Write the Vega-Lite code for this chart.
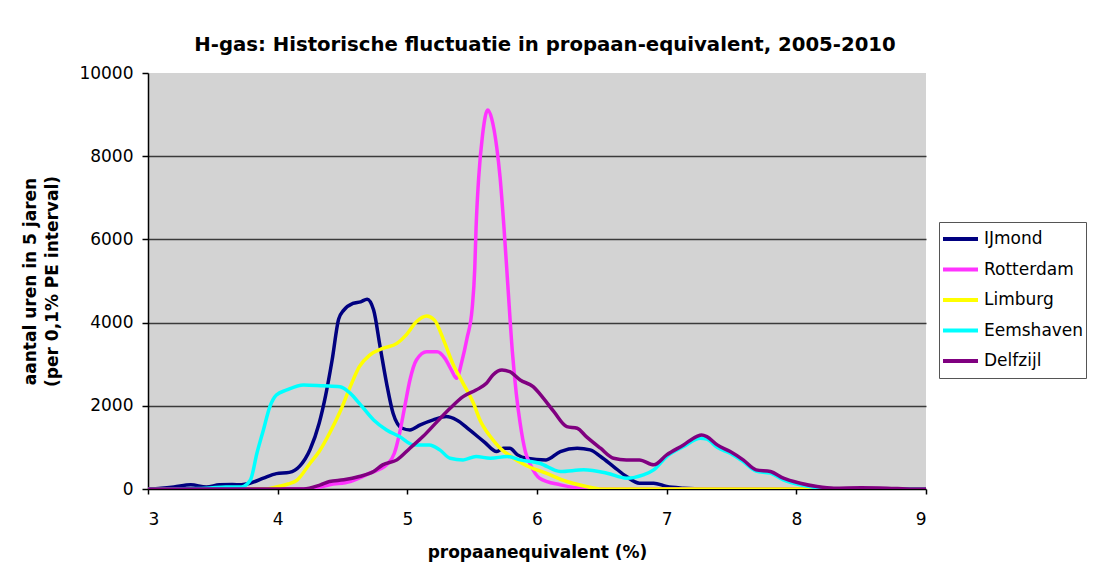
{
  "$schema": "https://vega.github.io/schema/vega-lite/v6.json",
  "width": 778,
  "height": 416,
  "autosize": {"type": "none"},
  "padding": {"left": 148, "top": 73, "right": 167, "bottom": 90},
  "background": "white",
  "title": {
    "text": "H-gas: Historische fluctuatie in propaan-equivalent, 2005-2010",
    "font": "DejaVu Sans",
    "fontSize": 19.7,
    "fontWeight": "bold",
    "color": "black",
    "anchor": "middle",
    "frame": "group",
    "offset": 9,
    "dx": 8
  },
  "config": {
    "view": {"fill": "#d3d3d3", "stroke": null},
    "axis": {
      "labelFont": "DejaVu Sans",
      "labelFontSize": 17,
      "labelColor": "black",
      "titleFont": "DejaVu Sans",
      "titleFontSize": 17,
      "titleFontWeight": "bold",
      "titleColor": "black",
      "domainColor": "black",
      "domainWidth": 1.5,
      "tickColor": "black",
      "tickWidth": 1.5,
      "tickSize": 6
    }
  },
  "data": {
    "values": [
      {"s": "IJmond", "x": 3.0, "y": 0},
      {"s": "IJmond", "x": 3.1, "y": 20},
      {"s": "IJmond", "x": 3.2, "y": 50},
      {"s": "IJmond", "x": 3.33, "y": 100},
      {"s": "IJmond", "x": 3.45, "y": 50},
      {"s": "IJmond", "x": 3.55, "y": 100},
      {"s": "IJmond", "x": 3.65, "y": 110},
      {"s": "IJmond", "x": 3.72, "y": 100},
      {"s": "IJmond", "x": 3.79, "y": 140},
      {"s": "IJmond", "x": 3.89, "y": 260},
      {"s": "IJmond", "x": 3.99, "y": 370},
      {"s": "IJmond", "x": 4.09, "y": 400},
      {"s": "IJmond", "x": 4.17, "y": 550},
      {"s": "IJmond", "x": 4.25, "y": 950},
      {"s": "IJmond", "x": 4.32, "y": 1580},
      {"s": "IJmond", "x": 4.37, "y": 2250},
      {"s": "IJmond", "x": 4.42, "y": 3100},
      {"s": "IJmond", "x": 4.47, "y": 4080},
      {"s": "IJmond", "x": 4.51, "y": 4300},
      {"s": "IJmond", "x": 4.58, "y": 4460},
      {"s": "IJmond", "x": 4.64, "y": 4500},
      {"s": "IJmond", "x": 4.69, "y": 4560},
      {"s": "IJmond", "x": 4.74, "y": 4300},
      {"s": "IJmond", "x": 4.79, "y": 3420},
      {"s": "IJmond", "x": 4.84, "y": 2540},
      {"s": "IJmond", "x": 4.89, "y": 1820},
      {"s": "IJmond", "x": 4.96, "y": 1460},
      {"s": "IJmond", "x": 5.02, "y": 1420},
      {"s": "IJmond", "x": 5.1, "y": 1540},
      {"s": "IJmond", "x": 5.2, "y": 1660},
      {"s": "IJmond", "x": 5.3, "y": 1740},
      {"s": "IJmond", "x": 5.38, "y": 1660},
      {"s": "IJmond", "x": 5.48, "y": 1420},
      {"s": "IJmond", "x": 5.59, "y": 1140},
      {"s": "IJmond", "x": 5.69, "y": 900},
      {"s": "IJmond", "x": 5.74, "y": 980},
      {"s": "IJmond", "x": 5.79, "y": 980},
      {"s": "IJmond", "x": 5.85, "y": 820},
      {"s": "IJmond", "x": 5.92, "y": 740},
      {"s": "IJmond", "x": 6.07, "y": 700},
      {"s": "IJmond", "x": 6.18, "y": 900},
      {"s": "IJmond", "x": 6.31, "y": 980},
      {"s": "IJmond", "x": 6.41, "y": 940},
      {"s": "IJmond", "x": 6.49, "y": 780},
      {"s": "IJmond", "x": 6.59, "y": 540},
      {"s": "IJmond", "x": 6.69, "y": 300},
      {"s": "IJmond", "x": 6.79, "y": 140},
      {"s": "IJmond", "x": 6.9, "y": 140},
      {"s": "IJmond", "x": 7.0, "y": 60},
      {"s": "IJmond", "x": 7.13, "y": 20},
      {"s": "IJmond", "x": 7.3, "y": 0},
      {"s": "IJmond", "x": 9.0, "y": 0},
      {"s": "Rotterdam", "x": 3.0, "y": 0},
      {"s": "Rotterdam", "x": 4.2, "y": 0},
      {"s": "Rotterdam", "x": 4.33, "y": 50},
      {"s": "Rotterdam", "x": 4.4, "y": 100},
      {"s": "Rotterdam", "x": 4.56, "y": 180},
      {"s": "Rotterdam", "x": 4.71, "y": 380},
      {"s": "Rotterdam", "x": 4.84, "y": 580},
      {"s": "Rotterdam", "x": 4.9, "y": 860},
      {"s": "Rotterdam", "x": 4.94, "y": 1340},
      {"s": "Rotterdam", "x": 4.98, "y": 1980},
      {"s": "Rotterdam", "x": 5.02, "y": 2620},
      {"s": "Rotterdam", "x": 5.07, "y": 3100},
      {"s": "Rotterdam", "x": 5.15, "y": 3300},
      {"s": "Rotterdam", "x": 5.23, "y": 3300},
      {"s": "Rotterdam", "x": 5.29, "y": 3140},
      {"s": "Rotterdam", "x": 5.34, "y": 2860},
      {"s": "Rotterdam", "x": 5.38, "y": 2660},
      {"s": "Rotterdam", "x": 5.42, "y": 3060},
      {"s": "Rotterdam", "x": 5.46, "y": 3620},
      {"s": "Rotterdam", "x": 5.5, "y": 4340},
      {"s": "Rotterdam", "x": 5.52, "y": 5300},
      {"s": "Rotterdam", "x": 5.53, "y": 6270},
      {"s": "Rotterdam", "x": 5.55, "y": 7470},
      {"s": "Rotterdam", "x": 5.58, "y": 8510},
      {"s": "Rotterdam", "x": 5.62, "y": 9110},
      {"s": "Rotterdam", "x": 5.65, "y": 8910},
      {"s": "Rotterdam", "x": 5.69, "y": 8200},
      {"s": "Rotterdam", "x": 5.715, "y": 7500},
      {"s": "Rotterdam", "x": 5.745, "y": 6300},
      {"s": "Rotterdam", "x": 5.775, "y": 4900},
      {"s": "Rotterdam", "x": 5.81, "y": 3300},
      {"s": "Rotterdam", "x": 5.84, "y": 2300},
      {"s": "Rotterdam", "x": 5.87, "y": 1580},
      {"s": "Rotterdam", "x": 5.91, "y": 900},
      {"s": "Rotterdam", "x": 5.95, "y": 580},
      {"s": "Rotterdam", "x": 6.02, "y": 260},
      {"s": "Rotterdam", "x": 6.18, "y": 100},
      {"s": "Rotterdam", "x": 6.3, "y": 30},
      {"s": "Rotterdam", "x": 6.45, "y": 0},
      {"s": "Rotterdam", "x": 9.0, "y": 0},
      {"s": "Limburg", "x": 3.0, "y": 0},
      {"s": "Limburg", "x": 3.9, "y": 0},
      {"s": "Limburg", "x": 3.99, "y": 50},
      {"s": "Limburg", "x": 4.08, "y": 120},
      {"s": "Limburg", "x": 4.15, "y": 216},
      {"s": "Limburg", "x": 4.25, "y": 620},
      {"s": "Limburg", "x": 4.32, "y": 900},
      {"s": "Limburg", "x": 4.4, "y": 1340},
      {"s": "Limburg", "x": 4.48, "y": 1850},
      {"s": "Limburg", "x": 4.56, "y": 2460},
      {"s": "Limburg", "x": 4.63, "y": 2940},
      {"s": "Limburg", "x": 4.71, "y": 3220},
      {"s": "Limburg", "x": 4.81, "y": 3380},
      {"s": "Limburg", "x": 4.92, "y": 3500},
      {"s": "Limburg", "x": 4.99, "y": 3700},
      {"s": "Limburg", "x": 5.07, "y": 4020},
      {"s": "Limburg", "x": 5.15, "y": 4160},
      {"s": "Limburg", "x": 5.21, "y": 4060},
      {"s": "Limburg", "x": 5.28, "y": 3580},
      {"s": "Limburg", "x": 5.35, "y": 3020},
      {"s": "Limburg", "x": 5.43, "y": 2540},
      {"s": "Limburg", "x": 5.51, "y": 2060},
      {"s": "Limburg", "x": 5.56, "y": 1660},
      {"s": "Limburg", "x": 5.64, "y": 1260},
      {"s": "Limburg", "x": 5.71, "y": 1000},
      {"s": "Limburg", "x": 5.79, "y": 800},
      {"s": "Limburg", "x": 5.92, "y": 560},
      {"s": "Limburg", "x": 6.07, "y": 380},
      {"s": "Limburg", "x": 6.23, "y": 180},
      {"s": "Limburg", "x": 6.38, "y": 60},
      {"s": "Limburg", "x": 6.5, "y": 0},
      {"s": "Limburg", "x": 9.0, "y": 0},
      {"s": "Eemshaven", "x": 3.0, "y": 0},
      {"s": "Eemshaven", "x": 3.45, "y": 20},
      {"s": "Eemshaven", "x": 3.6, "y": 50},
      {"s": "Eemshaven", "x": 3.72, "y": 50},
      {"s": "Eemshaven", "x": 3.79, "y": 216},
      {"s": "Eemshaven", "x": 3.84, "y": 860},
      {"s": "Eemshaven", "x": 3.89, "y": 1420},
      {"s": "Eemshaven", "x": 3.94, "y": 1980},
      {"s": "Eemshaven", "x": 3.99, "y": 2260},
      {"s": "Eemshaven", "x": 4.07, "y": 2380},
      {"s": "Eemshaven", "x": 4.2, "y": 2500},
      {"s": "Eemshaven", "x": 4.35, "y": 2480},
      {"s": "Eemshaven", "x": 4.48, "y": 2460},
      {"s": "Eemshaven", "x": 4.56, "y": 2300},
      {"s": "Eemshaven", "x": 4.63, "y": 2060},
      {"s": "Eemshaven", "x": 4.74, "y": 1660},
      {"s": "Eemshaven", "x": 4.84, "y": 1420},
      {"s": "Eemshaven", "x": 4.94, "y": 1260},
      {"s": "Eemshaven", "x": 5.05, "y": 1060},
      {"s": "Eemshaven", "x": 5.17, "y": 1060},
      {"s": "Eemshaven", "x": 5.25, "y": 940},
      {"s": "Eemshaven", "x": 5.33, "y": 740},
      {"s": "Eemshaven", "x": 5.43, "y": 700},
      {"s": "Eemshaven", "x": 5.53, "y": 780},
      {"s": "Eemshaven", "x": 5.64, "y": 740},
      {"s": "Eemshaven", "x": 5.77, "y": 780},
      {"s": "Eemshaven", "x": 5.87, "y": 700},
      {"s": "Eemshaven", "x": 6.02, "y": 620},
      {"s": "Eemshaven", "x": 6.18, "y": 420},
      {"s": "Eemshaven", "x": 6.36, "y": 460},
      {"s": "Eemshaven", "x": 6.54, "y": 380},
      {"s": "Eemshaven", "x": 6.69, "y": 260},
      {"s": "Eemshaven", "x": 6.82, "y": 340},
      {"s": "Eemshaven", "x": 6.9, "y": 460},
      {"s": "Eemshaven", "x": 7.0, "y": 780},
      {"s": "Eemshaven", "x": 7.13, "y": 1020},
      {"s": "Eemshaven", "x": 7.26, "y": 1220},
      {"s": "Eemshaven", "x": 7.31, "y": 1200},
      {"s": "Eemshaven", "x": 7.39, "y": 1000},
      {"s": "Eemshaven", "x": 7.49, "y": 860},
      {"s": "Eemshaven", "x": 7.59, "y": 660},
      {"s": "Eemshaven", "x": 7.69, "y": 430},
      {"s": "Eemshaven", "x": 7.8, "y": 380},
      {"s": "Eemshaven", "x": 7.9, "y": 220},
      {"s": "Eemshaven", "x": 8.03, "y": 100},
      {"s": "Eemshaven", "x": 8.16, "y": 30},
      {"s": "Eemshaven", "x": 8.25, "y": 0},
      {"s": "Eemshaven", "x": 9.0, "y": 0},
      {"s": "Delfzijl", "x": 3.0, "y": 0},
      {"s": "Delfzijl", "x": 4.2, "y": 0},
      {"s": "Delfzijl", "x": 4.33, "y": 100},
      {"s": "Delfzijl", "x": 4.4, "y": 180},
      {"s": "Delfzijl", "x": 4.51, "y": 220},
      {"s": "Delfzijl", "x": 4.63, "y": 300},
      {"s": "Delfzijl", "x": 4.74, "y": 420},
      {"s": "Delfzijl", "x": 4.81, "y": 580},
      {"s": "Delfzijl", "x": 4.92, "y": 700},
      {"s": "Delfzijl", "x": 5.02, "y": 980},
      {"s": "Delfzijl", "x": 5.12, "y": 1260},
      {"s": "Delfzijl", "x": 5.23, "y": 1620},
      {"s": "Delfzijl", "x": 5.33, "y": 1940},
      {"s": "Delfzijl", "x": 5.43, "y": 2220},
      {"s": "Delfzijl", "x": 5.53, "y": 2380},
      {"s": "Delfzijl", "x": 5.61, "y": 2540},
      {"s": "Delfzijl", "x": 5.66, "y": 2740},
      {"s": "Delfzijl", "x": 5.73, "y": 2860},
      {"s": "Delfzijl", "x": 5.79, "y": 2820},
      {"s": "Delfzijl", "x": 5.87, "y": 2620},
      {"s": "Delfzijl", "x": 5.97, "y": 2460},
      {"s": "Delfzijl", "x": 6.05, "y": 2180},
      {"s": "Delfzijl", "x": 6.13, "y": 1860},
      {"s": "Delfzijl", "x": 6.23, "y": 1500},
      {"s": "Delfzijl", "x": 6.31, "y": 1460},
      {"s": "Delfzijl", "x": 6.38, "y": 1260},
      {"s": "Delfzijl", "x": 6.49, "y": 980},
      {"s": "Delfzijl", "x": 6.59, "y": 740},
      {"s": "Delfzijl", "x": 6.69, "y": 700},
      {"s": "Delfzijl", "x": 6.79, "y": 700},
      {"s": "Delfzijl", "x": 6.9, "y": 580},
      {"s": "Delfzijl", "x": 7.0, "y": 820},
      {"s": "Delfzijl", "x": 7.13, "y": 1060},
      {"s": "Delfzijl", "x": 7.23, "y": 1260},
      {"s": "Delfzijl", "x": 7.27, "y": 1300},
      {"s": "Delfzijl", "x": 7.31, "y": 1260},
      {"s": "Delfzijl", "x": 7.39, "y": 1060},
      {"s": "Delfzijl", "x": 7.49, "y": 900},
      {"s": "Delfzijl", "x": 7.59, "y": 700},
      {"s": "Delfzijl", "x": 7.69, "y": 460},
      {"s": "Delfzijl", "x": 7.8, "y": 420},
      {"s": "Delfzijl", "x": 7.9, "y": 260},
      {"s": "Delfzijl", "x": 8.03, "y": 140},
      {"s": "Delfzijl", "x": 8.16, "y": 60},
      {"s": "Delfzijl", "x": 8.29, "y": 20},
      {"s": "Delfzijl", "x": 8.5, "y": 30},
      {"s": "Delfzijl", "x": 8.7, "y": 20},
      {"s": "Delfzijl", "x": 8.9, "y": 0},
      {"s": "Delfzijl", "x": 9.0, "y": 0}
    ]
  },
  "mark": {"type": "line", "strokeWidth": 3.5, "interpolate": "monotone", "clip": true},
  "encoding": {
    "x": {
      "field": "x",
      "type": "quantitative",
      "scale": {"domain": [3, 9], "nice": false},
      "axis": {
        "values": [3, 4, 5, 6, 7, 8, 9],
        "format": "d",
        "grid": false,
        "tickSize": 5,
        "labelPadding": 17,
        "title": "propaanequivalent (%)",
        "titlePadding": 17
      }
    },
    "y": {
      "field": "y",
      "type": "quantitative",
      "scale": {"domain": [0, 10000], "nice": false},
      "axis": {
        "values": [0, 2000, 4000, 6000, 8000, 10000],
        "format": "d",
        "grid": true,
        "gridColor": "#3a3a3a",
        "gridWidth": 1.5,
        "gridOpacity": {"condition": {"test": "datum.value >= 10000 || datum.value <= 0", "value": 0}, "value": 1},
        "tickSize": 6,
        "labelPadding": 9,
        "title": ["aantal uren in 5 jaren", "(per 0,1% PE interval)"],
        "titleLineHeight": 22,
        "titlePadding": 17
      }
    },
    "color": {
      "field": "s",
      "type": "nominal",
      "scale": {
        "domain": ["IJmond", "Rotterdam", "Limburg", "Eemshaven", "Delfzijl"],
        "range": ["#000080", "#ff33ff", "#ffff00", "#00ffff", "#800080"]
      },
      "legend": {
        "title": null,
        "orient": "none",
        "legendX": 791,
        "legendY": 149,
        "symbolType": "stroke",
        "symbolSize": 1225,
        "symbolStrokeWidth": 4,
        "clipHeight": 30,
        "rowPadding": 0.5,
        "labelFont": "DejaVu Sans",
        "labelFontSize": 17,
        "labelColor": "black",
        "labelOffset": 4,
        "padding": 2,
        "fillColor": "white",
        "strokeColor": "#555555"
      }
    }
  }
}
